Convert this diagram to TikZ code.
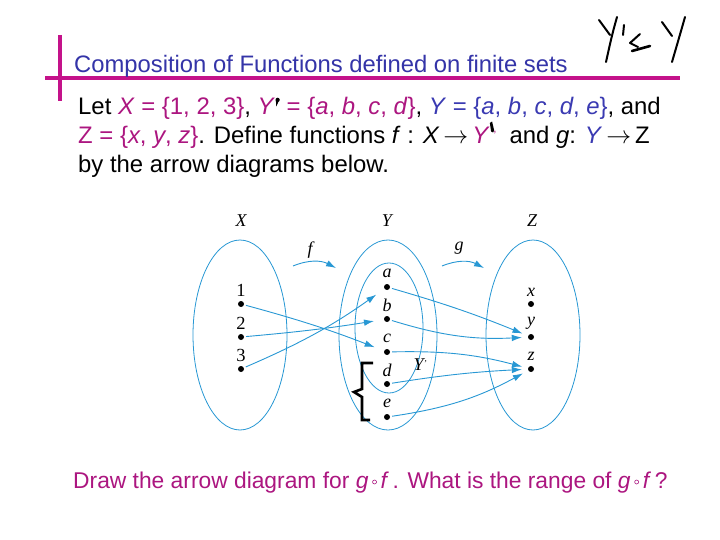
\documentclass[tikz,border=0pt]{standalone}
\usepackage{fontspec}
\setmainfont{Liberation Sans}
\newfontfamily\serifface{Liberation Serif}
\usetikzlibrary{arrows.meta}
\definecolor{rulec}{RGB}{196,18,138}
\definecolor{titleblue}{RGB}{52,52,168}
\definecolor{mag}{RGB}{172,22,128}
\definecolor{tblue}{RGB}{58,58,178}
\definecolor{lblue}{RGB}{40,152,212}
\newcommand{\inkmarkA}{\tikz[baseline=0pt,x=1pt,y=1pt]{\useasboundingbox (0,0) rectangle (5,1);\fill[black] (2.6,15.2) circle (2.1);\fill[black] (0.8,15.4) -- (4.4,15.4) -- (1.2,8.5) -- cycle;}}
\newcommand{\inkmarkB}{\tikz[baseline=0pt,x=1pt,y=1pt]{\useasboundingbox (0,0) rectangle (4,1);\fill[black] (0.2,21) -- (2.4,22.5) -- (4.4,14) -- (3.6,11.5) -- (1.4,12.5) -- cycle;}}
\newcommand{\compo}{\tikz[baseline=0pt,x=1pt,y=1pt]{\draw[line width=0.6pt] (2.2,6) circle (2);}}
\newcommand{\rarr}{\,\raisebox{0.5pt}{$\rightarrow$}\,}
\begin{document}
\begin{tikzpicture}[x=1pt,y=-1pt,
  bodytext/.style={anchor=base west,inner sep=0pt,font=\fontsize{23.9}{28}\selectfont},
  setell/.style={draw=lblue,line width=0.8pt},
  pt/.style={circle,fill=black,inner sep=0pt,minimum size=6pt},
  lab/.style={font=\serifface\fontsize{18.5}{20}\selectfont,inner sep=0pt},
  labit/.style={font=\serifface\itshape\fontsize{18}{20}\selectfont,inner sep=0pt},
  arr/.style={draw=lblue,line width=0.9pt,-{Latex[length=10pt,width=6.5pt]},shorten <=2pt},
  ink/.style={draw=black,line width=2pt,line cap=round,line join=round}]
\useasboundingbox (0,0) rectangle (720,540);
\fill[white] (0,0) rectangle (720,540);
% title rules
\draw[rulec,line width=4pt] (60,35) -- (60,101);
\draw[rulec,line width=4pt] (45,78) -- (680,78);
\node[anchor=base west,inner sep=0pt,text=titleblue,font=\fontsize{23.8}{27}\selectfont] (title) at (74,73) {Composition of Functions defined on finite sets};
% handwritten Y' subset Y
\draw[ink] (599,20) -- (610,35);
\draw[ink] (617,17) .. controls (612,35) .. (606,62);
\draw[ink] (624,25) -- (623,35);
\draw[ink] (640,34) -- (630,43) -- (638,47);
\draw[ink,line width=2.6pt] (632,51) -- (650,46);
\draw[ink] (662,22) -- (672,36);
\draw[ink] (685,17) .. controls (679,38) .. (672,62);
% body text
\node[bodytext] (l1) at (78,115) {Let \textcolor{mag}{\textit{X} = \{1, 2, 3\}}, \textcolor{mag}{\textit{Y}}\inkmarkA\ \textcolor{mag}{= \{\textit{a}, \textit{b}, \textit{c}, \textit{d}\}}, \textcolor{tblue}{\textit{Y} = \{\textit{a}, \textit{b}, \textit{c}, \textit{d}, \textit{e}\}}, and};
\node[bodytext] (l2) at (78,144) {\textcolor{mag}{Z = \{\textit{x}, \textit{y}, \textit{z}\}}. Define functions \textit{f} : \textit{X}\rarr\textcolor{mag}{\textit{Y}}\inkmarkB\textcolor{mag}{\raisebox{4pt}{\fontsize{12}{12}\selectfont’}}\ \ and \textit{g}: \textcolor{tblue}{\textit{Y}}\rarr Z};
\node[bodytext] (l3) at (78,173) {by the arrow diagrams below.};
% set ellipses
\draw[setell] (240,335) ellipse [x radius=47,y radius=95];
\draw[setell] (388,335) ellipse [x radius=49,y radius=95];
\draw[setell] (389,328) ellipse [x radius=34,y radius=65];
\draw[setell] (533,335) ellipse [x radius=47,y radius=95];
% set labels
\node[labit] (LX) at (241,221) {X};
\node[labit] (LY) at (387,221) {Y};
\node[labit] (LZ) at (532,221) {Z};
\node[labit] (LYp) at (420,365) {Y\raisebox{4pt}{\fontsize{9}{9}\selectfont’}};
% points
\node[pt] (n1) at (241,304) {};
\node[pt] (n2) at (241,337) {};
\node[pt] (n3) at (241,369) {};
\node[pt] (ya) at (387,287) {};
\node[pt] (yb) at (387,319) {};
\node[pt] (yc) at (387,352) {};
\node[pt] (yd) at (387,384) {};
\node[pt] (ye) at (387,417) {};
\node[pt] (zx) at (531,304) {};
\node[pt] (zy) at (531,337) {};
\node[pt] (zz) at (531,369) {};
\node[lab] at (241,290) {1};
\node[lab] at (241,323) {2};
\node[lab] at (241,355) {3};
\node[labit] at (387,273) {a};
\node[labit] at (387,305) {b};
\node[labit] at (387,338) {c};
\node[labit] at (387,370) {d};
\node[labit] at (387,403) {e};
\node[labit] at (531,292) {x};
\node[labit] at (531,323) {y};
\node[labit] at (531,356) {z};
% f and g labels with curved arrows
\coordinate (fs) at (293,266);
\coordinate (fe) at (336,268);
\coordinate (gs) at (442,266);
\coordinate (ge) at (484,268);
\draw[arr,shorten <=0pt] (fs) to[bend left=25] (fe);
\draw[arr,shorten <=0pt] (gs) to[bend left=25] (ge);
\node[labit] (fl) at (310,250) {f};
\node[labit] (gl) at (459,248) {g};
% f arrows
\draw[arr,shorten >=10pt] (n1) to[bend left=3] (yc);
\draw[arr,shorten >=10pt] (n2) to[bend right=2] (yb);
\draw[arr,shorten >=10pt] (n3) to[bend right=6] (ya);
% g arrows
\draw[arr,shorten >=6pt] (ya) to[bend left=3] (zy);
\draw[arr,shorten >=6pt] (yb) to[bend right=10] (zy);
\draw[arr,shorten >=6pt] (yc) to[bend left=8] (zz);
\draw[arr,shorten >=6pt] (yd) to[bend left=3] (zz);
\draw[arr,shorten >=6pt] (ye) to[bend right=10] (zz);
% handwritten bracket
\draw[ink,line width=2.6pt,line cap=butt,line join=miter] (373,363) -- (362,363) -- (362,389) -- (354,392) -- (362,397) -- (362,420) -- (370,420);
% question
\node[anchor=base west,inner sep=0pt,text=mag,font=\fontsize{22.8}{26}\selectfont] (q) at (73,488) {Draw the arrow diagram for \textit{g}\,\compo\,\textit{f}\,. What is the range of \textit{g}\,\compo\,\textit{f}\,?};
\end{tikzpicture}
\end{document}
